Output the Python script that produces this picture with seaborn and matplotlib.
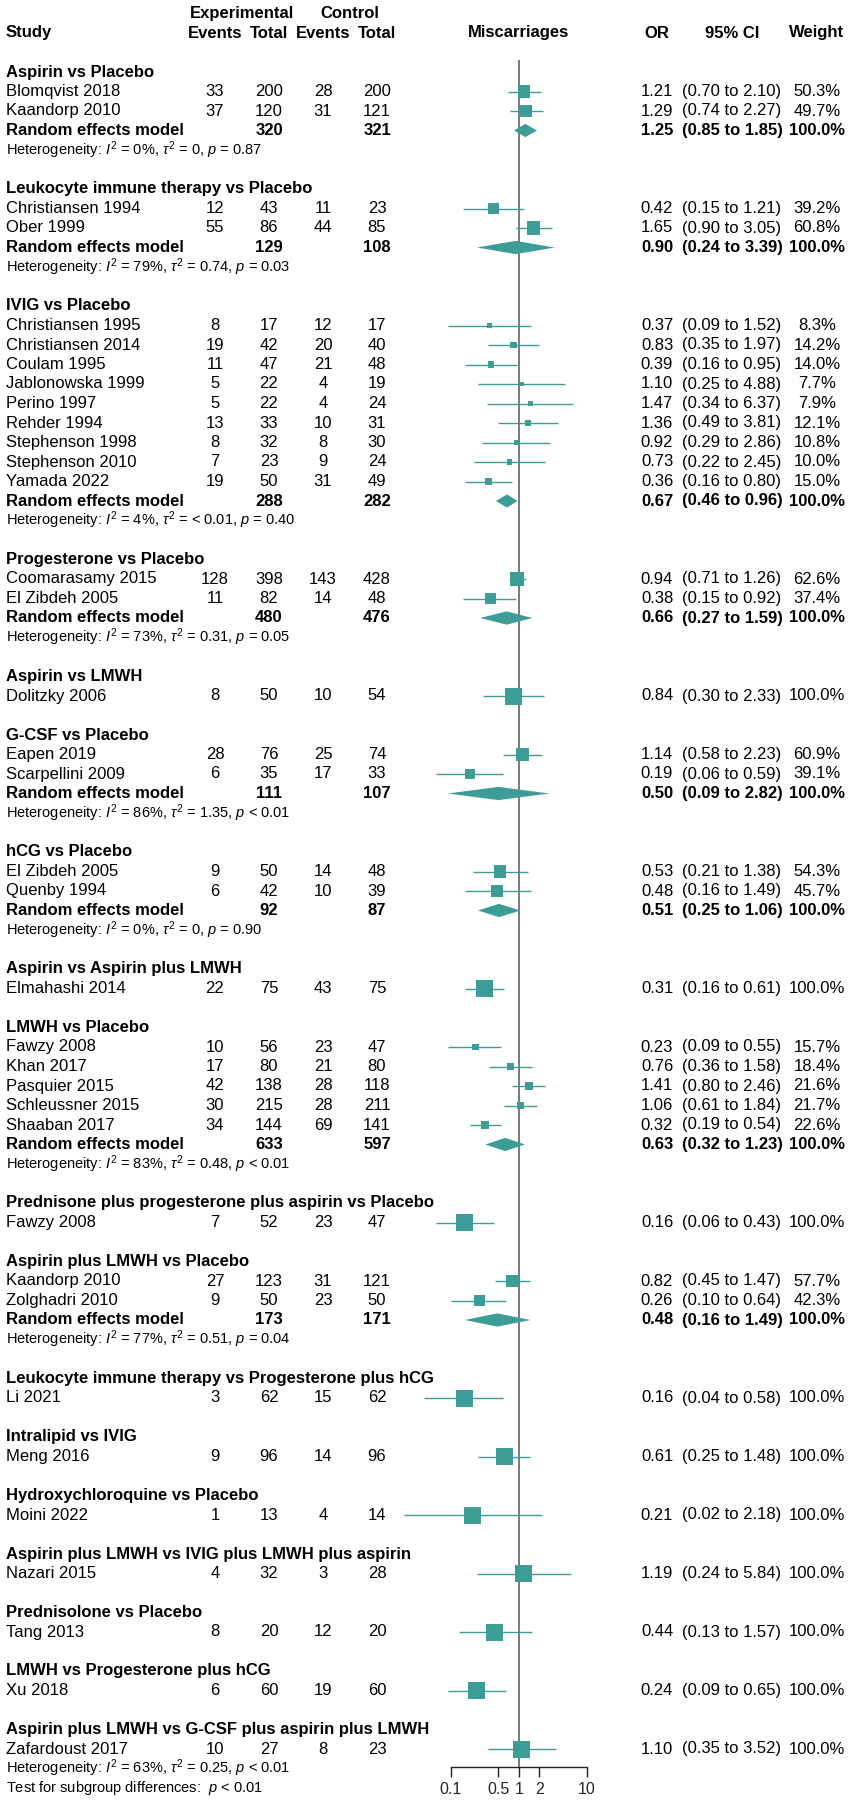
import numpy as np
import pandas as pd
import matplotlib
matplotlib.use("Agg")
import matplotlib.pyplot as plt
import matplotlib.transforms as mtrans
from matplotlib.ticker import NullLocator, FixedLocator, FixedFormatter
import seaborn as sns

# ---------------- data ----------------
group_names = [
    "Aspirin vs Placebo",
    "Leukocyte immune therapy vs Placebo",
    "IVIG vs Placebo",
    "Progesterone vs Placebo",
    "Aspirin vs LMWH",
    "G-CSF vs Placebo",
    "hCG vs Placebo",
    "Aspirin vs Aspirin plus LMWH",
    "LMWH vs Placebo",
    "Prednisone plus progesterone plus aspirin vs Placebo",
    "Aspirin plus LMWH vs Placebo",
    "Leukocyte immune therapy vs Progesterone plus hCG",
    "Intralipid vs IVIG",
    "Hydroxychloroquine vs Placebo",
    "Aspirin plus LMWH vs IVIG plus LMWH plus aspirin",
    "Prednisolone vs Placebo",
    "LMWH vs Progesterone plus hCG",
    "Aspirin plus LMWH vs G-CSF plus aspirin plus LMWH",
]

study_group = [0, 0, 1, 1, 2, 2, 2, 2, 2, 2, 2, 2, 2, 3, 3, 4, 5, 5, 6, 6, 7,
               8, 8, 8, 8, 8, 9, 10, 10, 11, 12, 13, 14, 15, 16, 17]
study_names = [
    "Blomqvist 2018", "Kaandorp 2010",
    "Christiansen 1994", "Ober 1999",
    "Christiansen 1995", "Christiansen 2014", "Coulam 1995", "Jablonowska 1999",
    "Perino 1997", "Rehder 1994", "Stephenson 1998", "Stephenson 2010", "Yamada 2022",
    "Coomarasamy 2015", "El Zibdeh 2005",
    "Dolitzky 2006",
    "Eapen 2019", "Scarpellini 2009",
    "El Zibdeh 2005", "Quenby 1994",
    "Elmahashi 2014",
    "Fawzy 2008", "Khan 2017", "Pasquier 2015", "Schleussner 2015", "Shaaban 2017",
    "Fawzy 2008",
    "Kaandorp 2010", "Zolghadri 2010",
    "Li 2021", "Meng 2016", "Moini 2022", "Nazari 2015", "Tang 2013", "Xu 2018",
    "Zafardoust 2017",
]
exp_events = [33, 37, 12, 55, 8, 19, 11, 5, 5, 13, 8, 7, 19, 128, 11, 8, 28, 6, 9, 6, 22,
              10, 17, 42, 30, 34, 7, 27, 9, 3, 9, 1, 4, 8, 6, 10]
exp_total = [200, 120, 43, 86, 17, 42, 47, 22, 22, 33, 32, 23, 50, 398, 82, 50, 76, 35, 50, 42, 75,
             56, 80, 138, 215, 144, 52, 123, 50, 62, 96, 13, 32, 20, 60, 27]
ctrl_events = [28, 31, 11, 44, 12, 20, 21, 4, 4, 10, 8, 9, 31, 143, 14, 10, 25, 17, 14, 10, 43,
               23, 21, 28, 28, 69, 23, 31, 23, 15, 14, 4, 3, 12, 19, 8]
ctrl_total = [200, 121, 23, 85, 17, 40, 48, 19, 24, 31, 30, 24, 49, 428, 48, 54, 74, 33, 48, 39, 75,
              47, 80, 118, 211, 141, 47, 121, 50, 62, 96, 14, 28, 20, 60, 23]
study_or = [1.21, 1.29, 0.42, 1.65, 0.37, 0.83, 0.39, 1.10, 1.47, 1.36, 0.92, 0.73, 0.36,
            0.94, 0.38, 0.84, 1.14, 0.19, 0.53, 0.48, 0.31,
            0.23, 0.76, 1.41, 1.06, 0.32, 0.16, 0.82, 0.26, 0.16, 0.61, 0.21, 1.19, 0.44, 0.24, 1.10]
study_lo = [0.70, 0.74, 0.15, 0.90, 0.09, 0.35, 0.16, 0.25, 0.34, 0.49, 0.29, 0.22, 0.16,
            0.71, 0.15, 0.30, 0.58, 0.06, 0.21, 0.16, 0.16,
            0.09, 0.36, 0.80, 0.61, 0.19, 0.06, 0.45, 0.10, 0.04, 0.25, 0.02, 0.24, 0.13, 0.09, 0.35]
study_hi = [2.10, 2.27, 1.21, 3.05, 1.52, 1.97, 0.95, 4.88, 6.37, 3.81, 2.86, 2.45, 0.80,
            1.26, 0.92, 2.33, 2.23, 0.59, 1.38, 1.49, 0.61,
            0.55, 1.58, 2.46, 1.84, 0.54, 0.43, 1.47, 0.64, 0.58, 1.48, 2.18, 5.84, 1.57, 0.65, 3.52]
study_weight = [50.3, 49.7, 39.2, 60.8, 8.3, 14.2, 14.0, 7.7, 7.9, 12.1, 10.8, 10.0, 15.0,
                62.6, 37.4, 100.0, 60.9, 39.1, 54.3, 45.7, 100.0,
                15.7, 18.4, 21.6, 21.7, 22.6, 100.0, 57.7, 42.3, 100.0, 100.0, 100.0, 100.0,
                100.0, 100.0, 100.0]

pooled_group = [0, 1, 2, 3, 5, 6, 8, 10]
pooled_exp_total = [320, 129, 288, 480, 111, 92, 633, 173]
pooled_ctrl_total = [321, 108, 282, 476, 107, 87, 597, 171]
pooled_or = [1.25, 0.90, 0.67, 0.66, 0.50, 0.51, 0.63, 0.48]
pooled_lo = [0.85, 0.24, 0.46, 0.27, 0.09, 0.25, 0.32, 0.16]
pooled_hi = [1.85, 3.39, 0.96, 1.59, 2.82, 1.06, 1.23, 1.49]
het_i2 = ["0%", "79%", "4%", "73%", "86%", "0%", "83%", "77%"]
het_tau2 = ["= 0", "= 0.74", "= < 0.01", "= 0.31", "= 1.35", "= 0", "= 0.48", "= 0.51"]
het_p = ["= 0.87", "= 0.03", "= 0.40", "= 0.05", "< 0.01", "= 0.90", "< 0.01", "= 0.04"]

overall_het = r"Heterogeneity: $I^2$ = 63%, $\tau^2$ = 0.25, $p$ < 0.01"
subgroup_test = r"Test for subgroup differences:  $p$ < 0.01"

axis_ticks = [0.1, 0.5, 1, 2, 10]
axis_ticklabels = ["0.1", "0.5", "1", "2", "10"]

# ---------------- style ----------------
sns.set_theme(style="white")
plt.rcParams["font.family"] = ["Liberation Sans", "DejaVu Sans"]
plt.rcParams["mathtext.fontset"] = "custom"
plt.rcParams["mathtext.rm"] = "Liberation Sans"
plt.rcParams["mathtext.it"] = "Liberation Sans:italic"
plt.rcParams["mathtext.bf"] = "Liberation Sans:bold"

TEAL = "#3E9C97"
W, H = 851, 1802
ROW0, ROWH = 72.0, 19.5          # pixel y of row 0, row height in px
REF_X, DEC = 518.8, 67.8         # pixel x of OR=1, pixels per decade
FS = 12
FS_HET = 10.5

# ---------------- layout rows ----------------
rows_head, rows_study, rows_pooled, rows_het = [], [], [], []
r = 0
study_idx = 0
for g in range(len(group_names)):
    rows_head.append(r)
    r += 1
    while study_idx < len(study_group) and study_group[study_idx] == g:
        rows_study.append(r)
        r += 1
        study_idx += 1
    if g in pooled_group:
        rows_pooled.append(r)
        r += 1
        rows_het.append(r)
        r += 1
    if g < len(group_names) - 1:
        r += 1
row_overall_het = r
row_test = r + 1

fig = plt.figure(figsize=(W / 100, H / 100), dpi=100)
ax = fig.add_axes([0, 0, 1, 1])
ax.set_xscale("log")
ax.patch.set_alpha(0)

# squares via seaborn
df = pd.DataFrame({"or": study_or, "row": rows_study,
                   "w": study_weight})
sizes = (17 * 0.72) ** 2 * df["w"].values / 100.0
ax.hlines(rows_study, study_lo, study_hi, color=TEAL, lw=1.0, zorder=2)
sns.scatterplot(data=df, x="or", y="row", s=sizes, marker="s", color=TEAL,
                linewidth=0, legend=False, ax=ax, zorder=3)

# diamonds
for i, rr in enumerate(rows_pooled):
    ax.fill([pooled_lo[i], pooled_or[i], pooled_hi[i], pooled_or[i]],
            [rr, rr - 0.34, rr, rr + 0.34], color=TEAL, lw=0, zorder=3)

axis_row = (1767 - ROW0) / ROWH
ax.vlines(1, (60 - ROW0) / ROWH, axis_row, color="#555555", lw=1.1, zorder=1)

ax.set_xlim(10 ** (-REF_X / DEC), 10 ** ((W - REF_X) / DEC))
ax.set_ylim((H - ROW0) / ROWH, -ROW0 / ROWH)
ax.set_xlabel("")
ax.set_ylabel("")
ax.set_yticks([])
ax.xaxis.set_major_locator(FixedLocator(axis_ticks))
ax.xaxis.set_major_formatter(FixedFormatter(axis_ticklabels))
ax.xaxis.set_minor_locator(NullLocator())
for s in ["left", "right", "top"]:
    ax.spines[s].set_visible(False)
ax.spines["bottom"].set_position(("data", axis_row))
ax.spines["bottom"].set_bounds(0.1, 10)
ax.spines["bottom"].set_color("#222222")
ax.spines["bottom"].set_linewidth(1.0)
ax.tick_params(axis="x", direction="out", length=7.5, width=1.0, color="#222222",
               labelsize=11.5, pad=3, bottom=True)
ax.grid(False)

# ---------------- text columns ----------------
tr = mtrans.blended_transform_factory(fig.transFigure, ax.transData)


def put(xpx, row, s, ha="center", bold=False, size=FS):
    ax.text(xpx / W, row, s, transform=tr, ha=ha, va="center", fontsize=size,
            fontweight="bold" if bold else "normal", color="black")


X_STUDY, X_EE, X_ET, X_CE, X_CT = 6, 215, 269, 323, 377
X_OR, X_CI, X_W = 657, 732, 817

put(242, -3, "Experimental", bold=True)
put(350, -3, "Control", bold=True)
put(X_STUDY, -2, "Study", ha="left", bold=True)
for xx, lab in [(X_EE, "Events"), (X_ET, "Total"), (X_CE, "Events"), (X_CT, "Total")]:
    put(xx, -2, lab, bold=True)
put(REF_X, -2, "Miscarriages", bold=True)
put(X_OR, -2, "OR", bold=True)
put(X_CI, -2, "95% CI", bold=True)
put(X_W, -2, "Weight", bold=True)

for g, rr in enumerate(rows_head):
    put(X_STUDY, rr, group_names[g], ha="left", bold=True)

for i, rr in enumerate(rows_study):
    put(X_STUDY, rr, study_names[i], ha="left")
    put(X_EE, rr, str(exp_events[i]))
    put(X_ET, rr, str(exp_total[i]))
    put(X_CE, rr, str(ctrl_events[i]))
    put(X_CT, rr, str(ctrl_total[i]))
    put(X_OR, rr, f"{study_or[i]:.2f}")
    put(X_CI, rr, f"({study_lo[i]:.2f} to {study_hi[i]:.2f})")
    put(X_W, rr, f"{study_weight[i]:.1f}%")

for i, rr in enumerate(rows_pooled):
    put(X_STUDY, rr, "Random effects model", ha="left", bold=True)
    put(X_ET, rr, str(pooled_exp_total[i]), bold=True)
    put(X_CT, rr, str(pooled_ctrl_total[i]), bold=True)
    put(X_OR, rr, f"{pooled_or[i]:.2f}", bold=True)
    put(X_CI, rr, f"({pooled_lo[i]:.2f} to {pooled_hi[i]:.2f})", bold=True)
    put(X_W, rr, "100.0%", bold=True)

for i, rr in enumerate(rows_het):
    s = (r"Heterogeneity: $I^2$ = " + het_i2[i] + r", $\tau^2$ " + het_tau2[i]
         + r", $p$ " + het_p[i])
    put(X_STUDY, rr, s, ha="left", size=FS_HET)

put(X_STUDY, row_overall_het, overall_het, ha="left", size=FS_HET)
put(X_STUDY, row_test, subgroup_test, ha="left", size=FS_HET)

fig.savefig("out.png", dpi=100)
